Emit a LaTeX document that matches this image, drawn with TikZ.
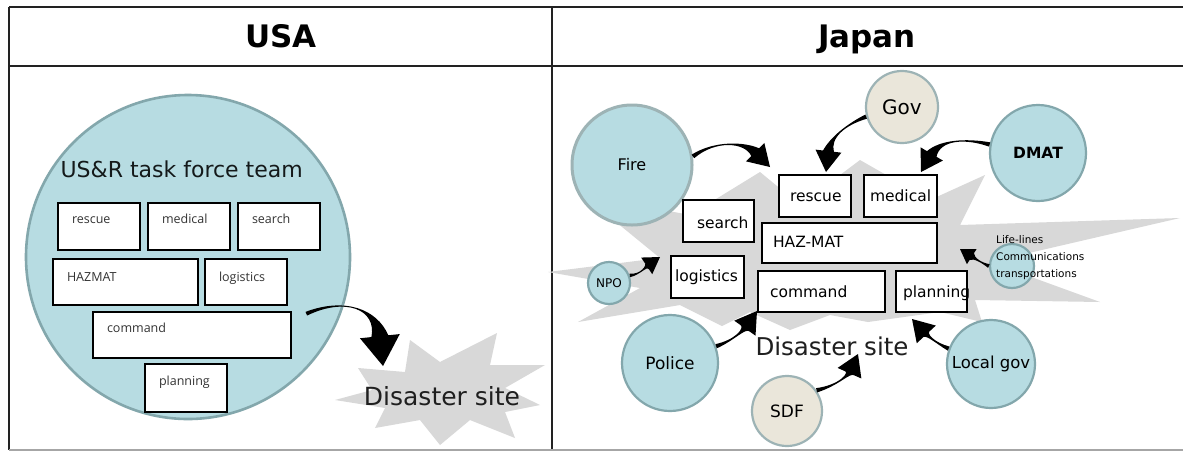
\documentclass[tikz,border=0pt]{standalone}
\usepackage{fontspec}
\setmainfont{DejaVu Sans}
\newfontfamily\boxfont{Open Sans}
\usetikzlibrary{calc}

\definecolor{teamfill}{HTML}{B7DCE2}
\definecolor{teamedge}{HTML}{83A7AC}
\definecolor{govfill}{HTML}{EAE6DA}
\definecolor{govedge}{HTML}{9DB3B5}
\definecolor{sitegray}{HTML}{D8D8D8}
\definecolor{ruleink}{HTML}{222222}

% thick tapered curved arrow: tail, control 1, control 2, tip,
% head length, head half width, body half width at the head, half width at the tail
\newcommand\bentarrow[8]{%
  \coordinate (hb) at ($#4!#5!#3$);
  \fill[arrowink] ($#1!#8!90:#2$) .. controls #2 and #3 .. ($(hb)!#7!90:#4$)
    -- ($(hb)!#6!90:#4$) -- #4 -- ($(hb)!#6!-90:#4$)
    -- ($(hb)!#7!-90:#4$) .. controls #3 and #2 .. ($#1!#8!-90:#2$) -- cycle;
}

\begin{document}
\begin{tikzpicture}[x=1pt,y=-1pt,
  frameline/.style={line width=2.4pt, draw=ruleink},
  team/.style={circle, fill=teamfill, draw=teamedge, line width=2.6pt, inner sep=0pt},
  agency/.style={circle, fill=teamfill, draw=teamedge, line width=2.2pt, inner sep=0pt,
    font=\fontsize{16}{18}\selectfont},
  ministry/.style={agency, fill=govfill, draw=govedge},
  lbox/.style={draw=black, line width=2.6pt, fill=white, inner xsep=14pt, inner ysep=0pt,
    align=left, font=\boxfont\fontsize{12.5}{14}\selectfont, text=black!80},
  rbox/.style={draw=black, line width=2.4pt, fill=white, inner ysep=0pt, align=left,
    font=\fontsize{15.5}{18}\selectfont},
  heading/.style={anchor=base, font=\bfseries\fontsize{31}{34}\selectfont},
  sitelabel/.style={anchor=base, text=black!88},
  arrowink/.style={fill=black},
]
\useasboundingbox (0,0) rectangle (1183,451);
\fill[white] (0,0) rectangle (1183,451);

% ---------- table frame ----------
\draw[frameline] (9,7) -- (1183,7);
\draw[frameline] (9,66) -- (1183,66);
\draw[frameline] (9,7) -- (9,450);
\draw[frameline] (552,7) -- (552,450);
\draw[line width=2pt, draw=black!35] (9,450) -- (1183,450);

\node[heading] (usa) at (281,47) {USA};
\node[heading] (japan) at (867,47) {Japan};

% ---------- USA ----------
\fill[sitegray] (358,368) -- (405,372) -- (410,340) -- (440,362) -- (497,333) -- (490,365)
  -- (545,365) -- (505,388) -- (540,405) -- (505,412) -- (515,438) -- (470,420)
  -- (440,445) -- (420,420) -- (375,428) -- (385,408) -- (335,400) -- (372,390) -- cycle;
\node[sitelabel, font=\fontsize{25}{28}\selectfont] (siteL) at (442,405) {Disaster site};

\node[team, minimum size=324pt] (usr) at (188,257) {};
\node[anchor=base west, text=black!85!teamedge, font=\fontsize{22}{24}\selectfont]
  (usrtitle) at (57,177) {US\&R task force team};

\node[lbox, text width=54pt, text height=20.5pt, text depth=26.5pt] (rescueL) at (99,226.5) {\mbox{rescue}};
\node[lbox, text width=54pt, text height=20.5pt, text depth=26.5pt] (medicalL) at (189,226.5) {\mbox{medical}};
\node[lbox, text width=54pt, text height=20.5pt, text depth=26.5pt] (searchL) at (279,226.5) {\mbox{search}};
\node[lbox, text width=117pt, text height=22.5pt, text depth=23.5pt] (hazmatL) at (125.5,282) {\mbox{HAZMAT}};
\node[lbox, text width=54pt, text height=22pt, text depth=24pt] (logisticsL) at (246,282) {\mbox{logistics}};
\node[lbox, text width=170pt, text height=20pt, text depth=26pt] (commandL) at (192,335) {\mbox{command}};
\node[lbox, text width=54pt, text height=21pt, text depth=27pt] (planningL) at (186,388) {\mbox{planning}};

\coordinate (siteTipL) at (383,366);
\bentarrow{($(commandL.north east)+(14,3)$)}{(345,297)}{(377,309)}{(siteTipL)}{30pt}{20pt}{8.5pt}{2pt}

% ---------- Japan ----------
\fill[sitegray] (548,272) -- (660,258) -- (583,195) -- (690,215) -- (760,172) -- (800,205)
  -- (860,160) -- (930,200) -- (985,175) -- (960,225) -- (1180,218) -- (990,262)
  -- (1100,302) -- (975,300) -- (982,322) -- (940,312) -- (868,322) -- (830,315)
  -- (790,330) -- (750,312) -- (722,326) -- (680,305) -- (578,322) -- (640,288) -- cycle;
\node[sitelabel, font=\fontsize{24.5}{28}\selectfont] (siteR) at (832,355) {Disaster site};

\node[agency, minimum size=120pt, draw=govedge, line width=3pt] (fire) at (632,165) {Fire};
\node[ministry, minimum size=72pt, font=\fontsize{20}{22}\selectfont] (gov) at (902,107) {Gov};
\node[agency, minimum size=96pt, font=\bfseries\fontsize{15.5}{17}\selectfont] (dmat) at (1038,153) {DMAT};
\node[agency, minimum size=42pt, font=\fontsize{12}{14}\selectfont] (npo) at (609,283) {NPO};
\node[agency, minimum size=96pt, font=\fontsize{17}{19}\selectfont] (police) at (670,363) {Police};
\node[ministry, minimum size=70pt, font=\fontsize{17}{19}\selectfont] (sdf) at (787,411) {SDF};
\node[agency, minimum size=88pt, font=\fontsize{16.5}{19}\selectfont] (localgov) at (991,364) {Local gov};
\node[agency, minimum size=44pt] (lifelink) at (1012,266) {};
\node[anchor=north west, inner sep=0pt, align=left, font=\fontsize{10.5}{17}\selectfont]
  (lifelines) at (996,235) {Life-lines\\Communications\\transportations};

\node[rbox, text width=50pt, inner xsep=11pt, text height=26pt, text depth=16pt] (rescueR) at (815,196) {\mbox{rescue}};
\node[rbox, text width=61pt, inner xsep=6pt, text height=26pt, text depth=16pt] (medicalR) at (900.5,196) {\mbox{medical}};
\node[rbox, text width=43pt, inner xsep=14pt, text height=28pt, text depth=14pt] (searchR) at (718.5,221) {\mbox{search}};
\node[rbox, text width=153pt, inner xsep=11pt, text height=24.5pt, text depth=15.5pt] (hazmatR) at (849.5,243) {\mbox{HAZ-MAT}};
\node[rbox, text width=65pt, inner xsep=4pt, text height=25.5pt, text depth=16.5pt] (logisticsR) at (707.5,277) {\mbox{logistics}};
\node[rbox, text width=103pt, inner xsep=12pt, text height=26.5pt, text depth=14.5pt] (commandR) at (821.5,291.5) {\mbox{command}};
\node[rbox, text width=57pt, inner xsep=7pt, text height=26.5pt, text depth=14.5pt] (planningR) at (931.5,291.5) {\mbox{planning}};

\coordinate (fireTip) at (770,167);
\coordinate (govTip) at (826,172);
\coordinate (dmatTip) at (921,172);
\coordinate (npoTip) at (660,257);
\coordinate (lifeTip) at (960,249);
\coordinate (policeTip) at (757,311);
\coordinate (sdfTip) at (858,354);
\coordinate (localTip) at (912,319);

\bentarrow{(fire.8)}{(715,140)}{(745,142)}{(fireTip)}{21pt}{13pt}{5.5pt}{2.2pt}
\bentarrow{(gov.195)}{(845,125)}{(830,138)}{(govTip)}{21pt}{13pt}{5.5pt}{2.2pt}
\bentarrow{(dmat.170)}{(965,138)}{(940,140)}{(dmatTip)}{21pt}{13pt}{5.5pt}{2.2pt}
\bentarrow{(npo.20)}{(640,275)}{(648,265)}{(npoTip)}{16pt}{10pt}{4pt}{1.8pt}
\bentarrow{(lifelink.west)}{(982,263)}{(974,258)}{(lifeTip)}{14pt}{9pt}{4pt}{2pt}
\bentarrow{(police.20)}{(735,340)}{(745,328)}{(policeTip)}{21pt}{13pt}{5.5pt}{2.2pt}
\bentarrow{(sdf.35)}{(840,385)}{(850,372)}{(sdfTip)}{21pt}{13pt}{5.5pt}{2.2pt}
\bentarrow{(localgov.160)}{(935,343)}{(925,333)}{(localTip)}{21pt}{13pt}{5.5pt}{2.2pt}
\end{tikzpicture}
\end{document}
